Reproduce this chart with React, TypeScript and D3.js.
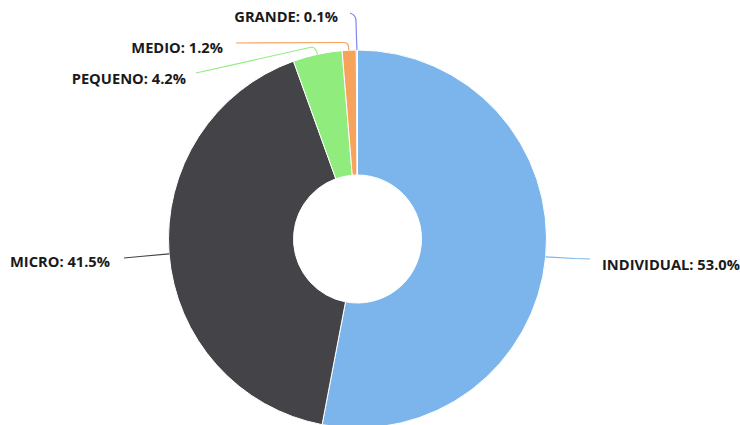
import React from "react";
import * as d3 from "d3";

const categories = ["INDIVIDUAL", "MICRO", "PEQUENO", "MEDIO", "GRANDE"];
const values = [53.0, 41.5, 4.2, 1.2, 0.1];
const colors = ["#7cb5ec", "#434348", "#90ed7d", "#f7a35c", "#8085e9"];

// label layout (text position and connector elbow)
const labelLayout = [
  { tx: 602, ty: 264, anchor: "start", lx: 590, ly: 259, ex: 575, ey: 258.5 },
  { tx: 110, ty: 261, anchor: "end", lx: 124, ly: 258, ex: 140, ey: 256.5 },
  { tx: 186, ty: 78, anchor: "end", lx: 196, ly: 73, ex: 312, ey: 47 },
  { tx: 223, ty: 47, anchor: "end", lx: 236, ly: 43, ex: 344, ey: 42.5 },
  { tx: 338, ty: 16, anchor: "end", lx: 350, ly: 13, ex: 356, ey: 22 },
];

const W = 740;
const H = 425;
const cx = 357.5;
const cy = 239;
const outerR = 189;
const innerR = 64;

export default function App() {
  const data = categories.map((c, i) => ({ name: c, value: values[i] }));
  const pie = d3.pie<any>().value((d) => d.value).sort(null)(data);
  const arc = d3.arc<any>().innerRadius(innerR).outerRadius(outerR);
  return (
    <svg width={W} height={H} style={{ position: "absolute", left: 0, top: 0, background: "#fff" }}>
      <g transform={`translate(${cx},${cy})`}>
        {pie.map((p, i) => (
          <path key={i} d={arc(p) as string} fill={colors[i]} stroke="#ffffff" strokeWidth={1} strokeLinejoin="round" />
        ))}
      </g>
      {pie.map((p, i) => {
        const mid = (p.startAngle + p.endAngle) / 2;
        const sx = cx + Math.sin(mid) * outerR;
        const sy = cy - Math.cos(mid) * outerR;
        const L = labelLayout[i];
        let d: string;
        if (i === 4) d = `M${L.lx},${L.ly} Q${sx - 0.5},${L.ly + 2} ${L.ex},${L.ey} L${sx},${sy}`;
        else if (i === 3) d = `M${L.lx},${L.ly} L${L.ex},${L.ey} Q${sx},${L.ey} ${sx - 0.5},${sy}`;
        else if (i === 2) d = `M${L.lx},${L.ly} L${L.ex},${L.ey} Q${sx - 1},${L.ey + 1} ${sx},${sy}`;
        else d = `M${L.lx},${L.ly} L${L.ex},${L.ey} L${sx},${sy}`;
        return (
          <g key={"l" + i}>
            <path d={d} fill="none" stroke={colors[i]} strokeWidth={1.2} />
            <text
              x={L.tx}
              y={L.ty}
              textAnchor={L.anchor as any}
              dominantBaseline="central"
              fontFamily="'Open Sans', sans-serif"
              fontWeight="bold"
              fontSize={14.7}
              fill="#1a1a1a"
            >
              {`${p.data.name}: ${p.data.value.toFixed(1)}%`}
            </text>
          </g>
        );
      })}
    </svg>
  );
}
